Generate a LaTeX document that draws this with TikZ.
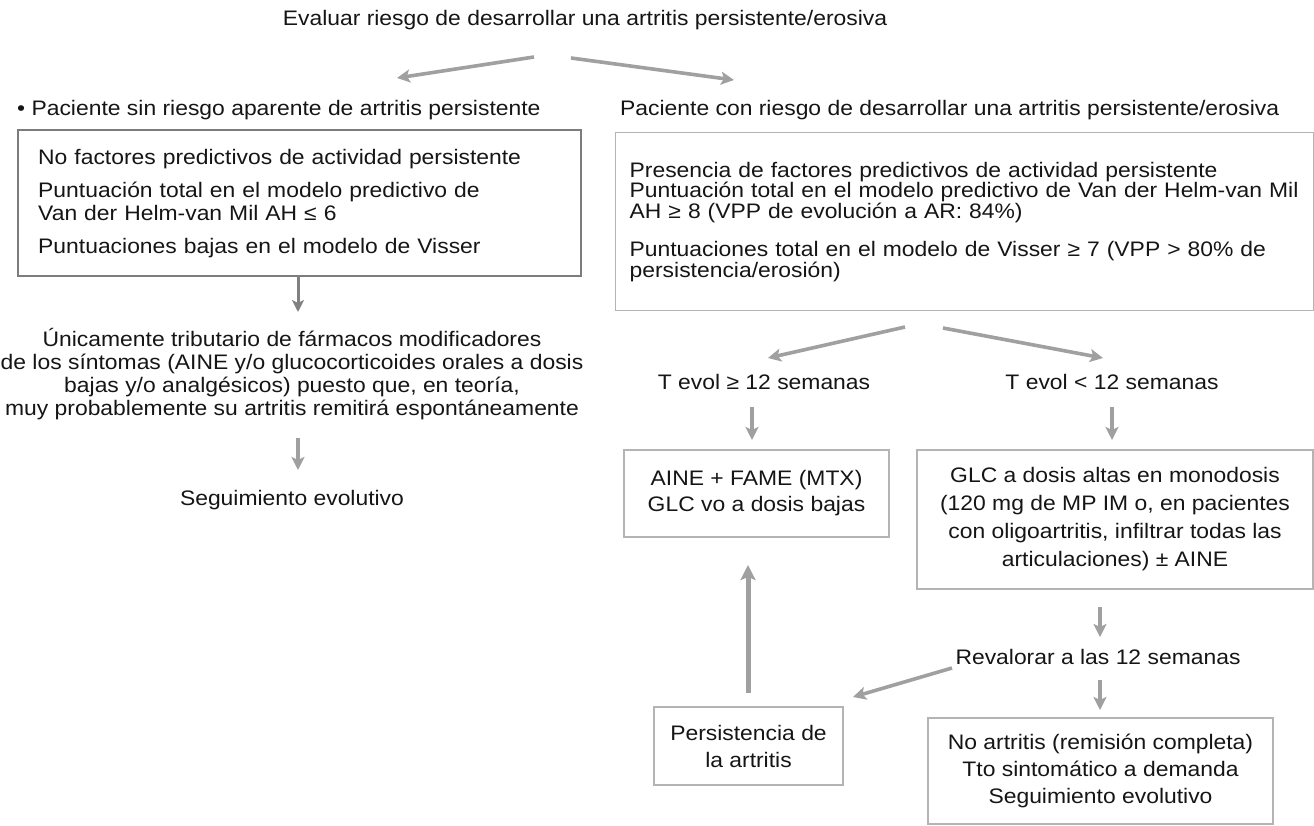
\documentclass[tikz,border=0pt]{standalone}
\usepackage{fontspec}
\setmainfont{Liberation Sans}[FakeStretch=1.09]
\usetikzlibrary{arrows.meta}
\definecolor{txtc}{HTML}{151515}
\definecolor{arrc}{HTML}{A0A0A0}
\definecolor{arrd}{HTML}{808080}
\definecolor{boxl}{HTML}{B4B4B4}
\definecolor{boxd}{HTML}{7C7C7C}
\setlength{\lineskiplimit}{-40pt}
\begin{document}
\setlength{\lineskiplimit}{-40pt}
\begin{tikzpicture}[x=1pt,y=-1pt,
  every node/.style={text=txtc, inner sep=0pt},
  plain/.style={font=\fontsize{21}{23}\selectfont},
  lead/.style={font=\fontsize{21}{#1}\selectfont},
  thinbox/.style={draw=boxl, line width=1.3pt},
  thickbox/.style={draw=boxd, line width=2.4pt},
  arr/.style={draw=arrc, line width=3.6pt, -{Stealth[length=13pt,width=13pt,inset=3pt]}},
  arrdark/.style={draw=arrd, line width=3pt, -{Stealth[length=12pt,width=12pt,inset=3pt]}},
  arrup/.style={draw=arrc, line width=5pt, -{Stealth[length=15pt,width=15pt,inset=3pt]}}
]
\useasboundingbox (0,0) rectangle (1314,826);

% texts
\node[plain] (title) at (585,20) {Evaluar riesgo de desarrollar una artritis persistente/erosiva};
\node[plain, anchor=west] (hdrL) at (17,110) {• Paciente sin riesgo aparente de artritis persistente};
\node[plain, anchor=west] (hdrR) at (620,110) {Paciente con riesgo de desarrollar una artritis persistente/erosiva};

% left box
\node[thickbox, lead=23, anchor=north west, minimum width=563pt, minimum height=146pt,
      text width=523pt, inner xsep=20pt, align=left] (bl) at (17,129)
  {No factores predictivos de actividad persistente\\[10pt]
   Puntuación total en el modelo predictivo de\\
   Van der Helm-van Mil AH ≤ 6\\[10pt]
   Puntuaciones bajas en el modelo de Visser};

% right box
\node[thinbox, lead=19.5, anchor=north west, minimum width=697pt, minimum height=178pt,
      text width=670pt, inner xsep=14pt, align=left] (br) at (615,132)
  {Presencia de factores predictivos de actividad persistente\\
   Puntuación total en el modelo predictivo de Van der Helm-van Mil\\
   AH ≥ 8 (VPP de evolución a AR: 84\%)\\[17pt]
   Puntuaciones total en el modelo de Visser ≥ 7 (VPP > 80\% de\\
   persistencia/erosión)};

% left column
\node[lead=23, align=center] (para) at (292,374)
  {Únicamente tributario de fármacos modificadores\\
   de los síntomas (AINE y/o glucocorticoides orales a dosis\\
   bajas y/o analgésicos) puesto que, en teoría,\\
   muy probablemente su artritis remitirá espontáneamente};
\node[plain] (seg) at (292,500) {Seguimiento evolutivo};

% right column
\node[plain] (tevA) at (764,382) {T evol ≥ 12 semanas};
\node[plain] (tevB) at (1112,382) {T evol < 12 semanas};

\node[thinbox, lead=26, align=center, minimum width=265pt, minimum height=87pt] (aine) at (756.5,493.5)
  {AINE + FAME (MTX)\\GLC vo a dosis bajas};
\node[thinbox, lead=28, align=center, minimum width=396pt, minimum height=139pt] (glc) at (1115,519.5)
  {GLC a dosis altas en monodosis\\
   (120 mg de MP IM o, en pacientes\\
   con oligoartritis, infiltrar todas las\\
   articulaciones) ± AINE};
\node[plain] (reval) at (1098,657) {Revalorar a las 12 semanas};
\node[thinbox, lead=27, align=center, minimum width=189pt, minimum height=78pt] (pers) at (748.5,746)
  {Persistencia de\\la artritis};
\node[thinbox, lead=27, align=center, minimum width=345pt, minimum height=106pt] (noart) at (1100.5,771)
  {No artritis (remisión completa)\\
   Tto sintomático a demanda\\
   Seguimiento evolutivo};

% connector end points
\coordinate (t1) at (534,57);  \coordinate (h1) at (397,78);
\coordinate (t2) at (571,58);  \coordinate (h2) at (734,80);
\coordinate (t3) at (298,276); \coordinate (h3) at (298,312);
\coordinate (t4) at (298,438); \coordinate (h4) at (298,470);
\coordinate (t5) at (905,327); \coordinate (h5) at (768,358);
\coordinate (t6) at (943,328); \coordinate (h6) at (1103,358);
\coordinate (t7) at (752,407); \coordinate (h7) at (752,440);
\coordinate (t8) at (1112,407);\coordinate (h8) at (1112,440);
\coordinate (t9) at (1100,607);\coordinate (h9) at (1100,637);
\coordinate (t10) at (1100,680);\coordinate (h10) at (1100,710);
\coordinate (t11) at (952,668);\coordinate (h11) at (853,697);
\coordinate (t12) at (748,693);\coordinate (h12) at (748,565);

\draw[arr] (t1) -- (h1);
\draw[arr] (t2) -- (h2);
\draw[arrdark] (t3) -- (h3);
\draw[arr] (t4) -- (h4);
\draw[arr] (t5) -- (h5);
\draw[arr] (t6) -- (h6);
\draw[arr] (t7) -- (h7);
\draw[arr] (t8) -- (h8);
\draw[arr] (t9) -- (h9);
\draw[arr] (t10) -- (h10);
\draw[arr] (t11) -- (h11);
\draw[arrup] (t12) -- (h12);
\end{tikzpicture}
\end{document}
